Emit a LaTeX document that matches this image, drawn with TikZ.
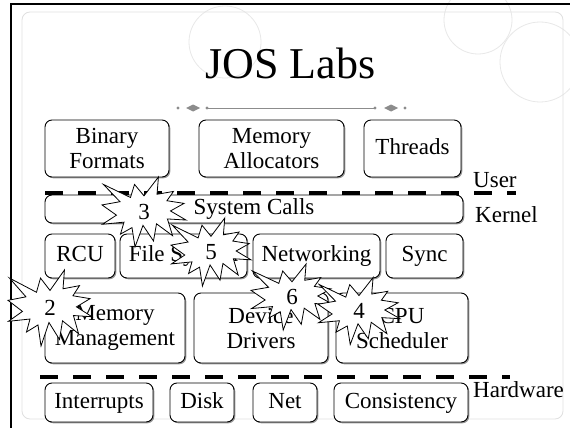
\documentclass[tikz,border=0pt]{standalone}
\usepackage{fontspec}
\setmainfont{Liberation Serif}
\usetikzlibrary{shadows}
\tikzset{
  box/.style={draw=black, line width=0.9pt, rounded corners=7pt, fill=white, inner sep=0pt,
    align=center, font=\fontsize{23}{25}\selectfont,
    drop shadow={shadow xshift=1.3pt, shadow yshift=-1.3pt, opacity=0.4, fill=black}},
  one/.style={text height=16pt, text depth=5pt},
  lbl/.style={font=\fontsize{23}{25}\selectfont, inner sep=0pt, anchor=base west},
  sepline/.style={line width=4pt, dash pattern=on 18pt off 15pt},
  burst/.style={draw=black, line width=0.8pt, fill=white, line join=miter},
  digit/.style={font=\fontsize{23}{25}\selectfont, inner sep=0pt},
  orn/.style={fill=black!45},
  stamp/.style={draw=black!9, line width=0.8pt},
}
\newcommand\burstat[6]{%
  \begin{scope}[shift={(#2-#4/2,#3-#5/2)}, xscale=#4/100, yscale=#5/100]
    \draw[burst] (50,26.9) -- (67.2,0) -- (65.5,24.7) -- (85.1,20.6) -- (77.3,33.9)
      -- (97.7,37.7) -- (81.5,48.5) -- (100,61.5) -- (77.9,59.9) -- (84.0,83.8)
      -- (64.9,66.9) -- (61.3,91.4) -- (48.8,69.1) -- (39.3,100) -- (35.7,72.3)
      -- (22.0,81.6) -- (26.2,64.5) -- (0.6,67.5) -- (17.2,54.5) -- (0,39.9)
      -- (21.4,35.3) -- (1.7,10.6) -- (33.9,29.3) -- (38.7,10.6) -- cycle;
  \end{scope}
  \node[digit] (#1) at (#2,#3) {#6};
}
\begin{document}
\begin{tikzpicture}[x=1pt,y=-1pt]
\useasboundingbox (0,0) rectangle (570,428);
\fill[white] (0,0) rectangle (570,428);
% faint stamps
\draw[stamp] (225,42) circle (36);
\draw[stamp] (478,20) circle (34);
\draw[stamp] (540,62) circle (40);
% faint inner frame
\draw[black!12, line width=0.8pt, rounded corners=8pt] (22,12) rectangle (563,419);
% outer black frame
\draw[black, line width=2.5pt] (11,428) -- (11,4) -- (570,4);
% title
\node[font=\fontsize{44}{48}\selectfont, inner sep=0pt, anchor=base] (title) at (290.5,78) {JOS Labs};
% ornament divider
\draw[black!45, line width=0.8pt] (207,108) -- (375,108);
\fill[orn] (178,108) circle (1.7);
\fill[orn] (207,108) circle (1.7);
\fill[orn] (375,108) circle (1.7);
\fill[orn] (405,108) circle (1.7);
\fill[orn] (186,108) -- (193,104.5) -- (200,108) -- (193,111.5) -- cycle;
\fill[orn] (384,108) -- (391,104.5) -- (398,108) -- (391,111.5) -- cycle;
% dashed separators
\coordinate (u1) at (45,193);
\coordinate (u2) at (516,193);
\coordinate (h1) at (40,377);
\coordinate (h2) at (510,377);
\draw[sepline] (u1) -- (u2);
\draw[sepline] (h1) -- (h2);
% row 1
\node[box, minimum width=124pt, minimum height=57pt] (bin) at (107,148.5) {Binary\\Formats};
\node[box, minimum width=145pt, minimum height=57pt] (alloc) at (271.5,148.5) {Memory\\Allocators};
\node[box, one, minimum width=97pt, minimum height=57pt] (thr) at (412.5,148.5) {Threads};
% system calls
\node[box, one, minimum width=418pt, minimum height=28pt] (sys) at (254,209) {System Calls};
% row 3
\node[box, one, minimum width=70pt, minimum height=44pt] (rcu) at (80,256) {RCU};
\node[box, one, minimum width=127pt, minimum height=44pt] (fs) at (183.5,256) {File System};
\node[box, one, minimum width=127pt, minimum height=44pt] (net) at (316.5,256) {Networking};
\node[box, one, minimum width=77pt, minimum height=44pt] (sync) at (424.5,256) {Sync};
% row 4
\node[box, minimum width=140pt, minimum height=70pt] (mm) at (115,328) {Memory\\Management};
\node[box, minimum width=134pt, minimum height=70pt] (dd) at (261,328) {Device\\Drivers};
\node[box, minimum width=132pt, minimum height=70pt] (cpu) at (402,328) {CPU\\Scheduler};
% hardware row
\node[box, one, minimum width=108pt, minimum height=39pt] (intr) at (99,402.5) {Interrupts};
\node[box, one, minimum width=64pt, minimum height=39pt] (disk) at (202,402.5) {Disk};
\node[box, one, minimum width=64pt, minimum height=39pt] (hnet) at (285,402.5) {Net};
\node[box, one, minimum width=134pt, minimum height=39pt] (cons) at (401,402.5) {Consistency};
% layer labels
\node[lbl] (user) at (473,187) {User};
\node[lbl] (kern) at (475,222) {Kernel};
\node[lbl] (hw) at (473,397) {Hardware};
% bursts
\burstat{b3}{144}{212}{84}{70}{3}
\burstat{b5}{211}{252}{80}{68}{5}
\burstat{b2}{50}{308}{84}{76}{2}
\burstat{b6}{292}{297}{82}{66}{6}
\burstat{b4}{359}{311}{82}{67}{4}
\end{tikzpicture}
\end{document}
